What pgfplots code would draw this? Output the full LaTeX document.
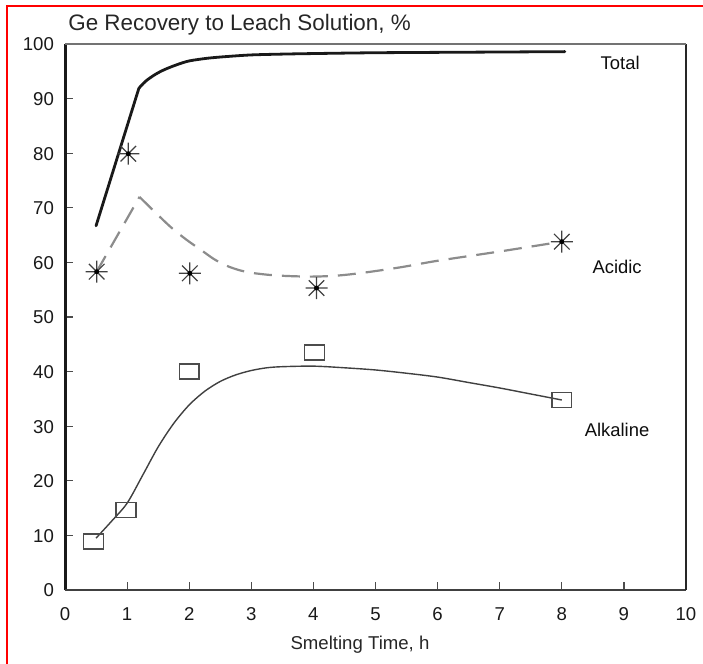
\documentclass[border=0pt]{standalone}
\usepackage{fontspec}
\setmainfont{Liberation Sans}
\usepackage{pgfplots}
\pgfplotsset{compat=1.18}

\pgfdeclareplotmark{ast8}{%
  \pgfpathmoveto{\pgfqpoint{-\pgfplotmarksize}{0pt}}\pgfpathlineto{\pgfqpoint{\pgfplotmarksize}{0pt}}%
  \pgfpathmoveto{\pgfqpoint{0pt}{-\pgfplotmarksize}}\pgfpathlineto{\pgfqpoint{0pt}{\pgfplotmarksize}}%
  \pgfpathmoveto{\pgfqpoint{-0.7071\pgfplotmarksize}{-0.7071\pgfplotmarksize}}\pgfpathlineto{\pgfqpoint{0.7071\pgfplotmarksize}{0.7071\pgfplotmarksize}}%
  \pgfpathmoveto{\pgfqpoint{-0.7071\pgfplotmarksize}{0.7071\pgfplotmarksize}}\pgfpathlineto{\pgfqpoint{0.7071\pgfplotmarksize}{-0.7071\pgfplotmarksize}}%
  \pgfusepathqstroke}
\pgfdeclareplotmark{rectw}{%
  \pgfpathrectanglecorners{\pgfqpoint{-1.33\pgfplotmarksize}{-\pgfplotmarksize}}{\pgfqpoint{1.33\pgfplotmarksize}{\pgfplotmarksize}}%
  \pgfusepathqstroke}

\begin{document}
\begin{tikzpicture}
\useasboundingbox (0,0) rectangle (351.5pt,-332pt);
\draw[red, line width=1.2pt] (3.5pt,-332pt) -- (3.5pt,-3pt) -- (351.5pt,-3pt);
\begin{axis}[
  at={(32.5pt,-295pt)}, anchor=south west,
  scale only axis, width=310.5pt, height=273pt,
  xmin=0, xmax=10, ymin=0, ymax=100,
  xtick={0,1,...,10}, ytick={0,10,...,100},
  tick pos=left, tick align=inside, major tick length=4pt,
  tick style={black!70, line width=0.6pt},
  axis line style={draw=none},
  ticklabel style={font=\fontsize{9.3}{10}\selectfont, text=black!90, text height=6.8pt, text depth=0pt},
  /pgf/number format/assume math mode=true,
  xticklabel style={yshift=-5pt},
  yticklabel style={xshift=-2pt},
  clip=false,
]
% Total
\addplot[black!90, line width=1.4pt, line cap=round] coordinates {(0.5,66.7)(1.19,91.9)};
\addplot[black!90, line width=1.4pt, line cap=round, smooth] coordinates {(1.19,91.9)(1.3,93.2)(1.45,94.4)(1.6,95.3)(1.8,96.2)(2.0,96.9)(2.3,97.4)(2.6,97.7)(3.0,98.0)(3.5,98.15)(4.0,98.25)(5.0,98.4)(6.5,98.5)(8.05,98.6)};
% Acidic curve
\addplot[black!45, line width=1.1pt, dash pattern=on 9pt off 5pt] coordinates {(0.51,58.3)(1.2,72)};
\addplot[black!45, line width=1.1pt, dash pattern=on 9pt off 5pt, smooth] coordinates {(1.2,72)(1.45,69.2)(1.7,66.5)(1.95,64.2)(2.2,62.2)(2.4,60.6)(2.6,59.4)(2.8,58.6)(3.0,58.1)(3.3,57.7)(3.6,57.5)(4.0,57.4)(4.4,57.6)(4.8,58.1)(5.4,59.1)(6.0,60.3)(7.0,62.0)(8.0,63.8)};
% Alkaline curve
\addplot[black!75, line width=0.7pt, smooth] coordinates {(0.5,9.5)(0.75,12.6)(1.0,15.9)(1.25,21.0)(1.5,26.2)(1.75,30.5)(2.0,33.9)(2.25,36.4)(2.5,38.2)(2.75,39.4)(3.0,40.2)(3.25,40.7)(3.5,40.9)(4.0,41.0)(4.5,40.7)(5.0,40.3)(5.5,39.7)(6.0,39.0)(6.5,38.0)(7.0,37.0)(7.5,35.9)(8.0,34.8)};
% Acidic points
\addplot[only marks, mark=ast8, mark size=5.5pt, black!75, line width=0.6pt] coordinates {(0.51,58.3)(1.02,79.9)(2.01,58)(4.05,55.3)(8.0,63.8)};
\addplot[only marks, mark=*, mark size=1pt, black] coordinates {(0.51,58.3)(1.02,79.9)(2.01,58)(4.05,55.3)(8.0,63.8)};
% Alkaline points
\addplot[only marks, mark=rectw, mark size=3.75pt, black!70, line width=0.7pt] coordinates {(0.46,8.85)(0.98,14.6)(2.0,40)(4.02,43.5)(8.0,34.8)};
% frame
\draw[black!90, line width=1.5pt] (rel axis cs:0,0) -- (rel axis cs:0,1);
\draw[black!75, line width=1pt] (rel axis cs:0,0) -- (rel axis cs:1,0);
\draw[black!85, line width=1.2pt] (rel axis cs:1,0) -- (rel axis cs:1,1);
\draw[black!55, line width=0.9pt] (rel axis cs:0,1) -- (rel axis cs:1,1);
% series labels
\node[font=\fontsize{9.2}{10}\selectfont, text=black!95] at (axis cs:8.94,96.5) {Total};
\node[font=\fontsize{9.2}{10}\selectfont, text=black!95] at (axis cs:8.89,59.2) {Acidic};
\node[font=\fontsize{9.2}{10}\selectfont, text=black!95] at (axis cs:8.89,29.3) {Alkaline};
\end{axis}
\node[anchor=west, inner sep=0pt, font=\fontsize{11.2}{12}\selectfont, text=black!85] at (34pt,-12.5pt) {Ge Recovery to Leach Solution, \%};
\node[font=\fontsize{9.3}{10}\selectfont, text=black!85] at (180pt,-322.5pt) {Smelting Time, h};
\end{tikzpicture}
\end{document}
